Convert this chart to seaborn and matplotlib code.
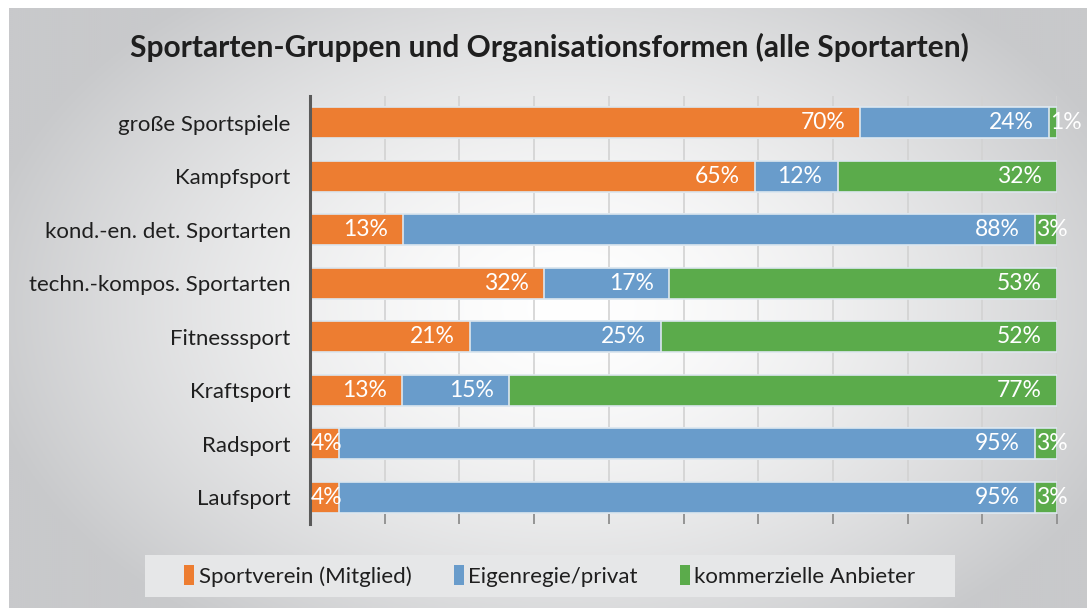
#Sportarten-Gruppen und Organisationsformen - gestapelte Balken mit Seaborn

import numpy as np
import pandas as pd
import matplotlib.pyplot as plt
from matplotlib.patches import Patch, Rectangle
import seaborn as sns

#Daten
kategorien = ["große Sportspiele", "Kampfsport", "kond.-en. det. Sportarten",
              "techn.-kompos. Sportarten", "Fitnesssport", "Kraftsport",
              "Radsport", "Laufsport"]
verein = [70, 65, 13, 32, 21, 13, 4, 4]
privat = [24, 12, 88, 17, 25, 15, 95, 95]
kommerziell = [1, 32, 3, 53, 52, 77, 3, 3]
serien = ["Sportverein (Mitglied)", "Eigenregie/privat", "kommerzielle Anbieter"]
farben = ["#ED7D31", "#699CCB", "#5BAB4B"]

sns.set_style("white")
plt.rcParams['font.family'] = ['Lato', 'DejaVu Sans']

#Balken auf 100% normiert, kumuliert
df = pd.DataFrame({"kategorie": kategorien, "verein": verein,
                   "privat": privat, "kommerziell": kommerziell})
summe = df[["verein", "privat", "kommerziell"]].sum(axis=1)
df["s1"] = df["verein"] / summe * 100
df["s2"] = (df["verein"] + df["privat"]) / summe * 100
df["s3"] = (df["verein"] + df["privat"] + df["kommerziell"]) / summe * 100

fig = plt.figure(figsize=(10.9, 6.08), dpi=100)

#Hintergrund mit radialem Verlauf
bg = fig.add_axes([9 / 1090, 0, 1078 / 1090, 600 / 608])
xx, yy = np.meshgrid(np.linspace(0, 1078, 540), np.linspace(0, 600, 300))
d = np.sqrt(((xx - 560) / 600) ** 2 + ((yy - 300) / 400) ** 2)
t = np.clip(d, 0, 1) ** 1.5
weiss = np.array([1.0, 1.0, 1.0])
grau = np.array([0xc8, 0xc9, 0xcb]) / 255
bild = weiss[None, None, :] * (1 - t[..., None]) + grau[None, None, :] * t[..., None]
bg.imshow(bild, aspect='auto', extent=(0, 1, 0, 1))
bg.set_axis_off()

#Legendenfeld
fig.patches.append(Rectangle((145 / 1090, 1 - 597 / 608), 810 / 1090, 42 / 608,
                             transform=fig.transFigure, facecolor="#e6e7e8",
                             edgecolor="none", zorder=1))

ax = fig.add_axes([310 / 1090, 1 - 524 / 608, 747 / 1090, 428 / 608])
ax.patch.set_alpha(0)

kante = "#dde7ef"
for spalte, farbe in zip(["s3", "s2", "s1"], farben[::-1]):
    sns.barplot(data=df, y="kategorie", x=spalte, color=farbe, orient="h",
                width=0.58, saturation=1, edgecolor=kante, linewidth=1.2, ax=ax)

#Beschriftungen
for i in range(len(kategorien)):
    grenzen = [0, df["s1"][i], df["s2"][i], df["s3"][i]]
    werte = [verein[i], privat[i], kommerziell[i]]
    for k in range(3):
        start, ende = grenzen[k], grenzen[k + 1]
        if ende - start < 5:
            ax.annotate(f"{werte[k]}%", (start, i), xytext=(0.5, 0),
                        textcoords="offset points", ha="left", va="center",
                        color="white", fontsize=16.5)
        else:
            ax.annotate(f"{werte[k]}%", (ende, i), xytext=(-11, 0),
                        textcoords="offset points", ha="right", va="center",
                        color="white", fontsize=16.5)

ax.set_xlim(0, 100)
ax.set_xticks(np.arange(0, 101, 10))
ax.xaxis.grid(True, color="#d2d2d2", linewidth=1.2)
ax.set_axisbelow(True)
ax.tick_params(axis="x", bottom=True, direction="in", length=7, color="#8a8a8a",
               width=1.2, labelbottom=False)
ax.tick_params(axis="y", length=0, pad=14, labelsize=16, labelcolor="#1f1f1f")
ax.set_xlabel("")
ax.set_ylabel("")
for s in ["top", "right", "bottom"]:
    ax.spines[s].set_visible(False)
ax.spines["left"].set_color("#5a5a5a")
ax.spines["left"].set_linewidth(2.2)

fig.text(0.504, 1 - 47 / 608, "Sportarten-Gruppen und Organisationsformen (alle Sportarten)",
         ha="center", va="center", fontsize=21.5, fontweight="bold", color="#1f1f1f")

griffe = [Patch(facecolor=f, edgecolor="none") for f in farben]
leg = fig.legend(griffe, serien, loc="center", bbox_to_anchor=(550 / 1090, 1 - 576 / 608),
                 ncol=3, frameon=False, fontsize=16, handlelength=0.45, handleheight=1.0,
                 handletextpad=0.2, columnspacing=1.9)
for txt in leg.get_texts():
    txt.set_color("#1f1f1f")

fig.savefig("out.png", dpi=100)
